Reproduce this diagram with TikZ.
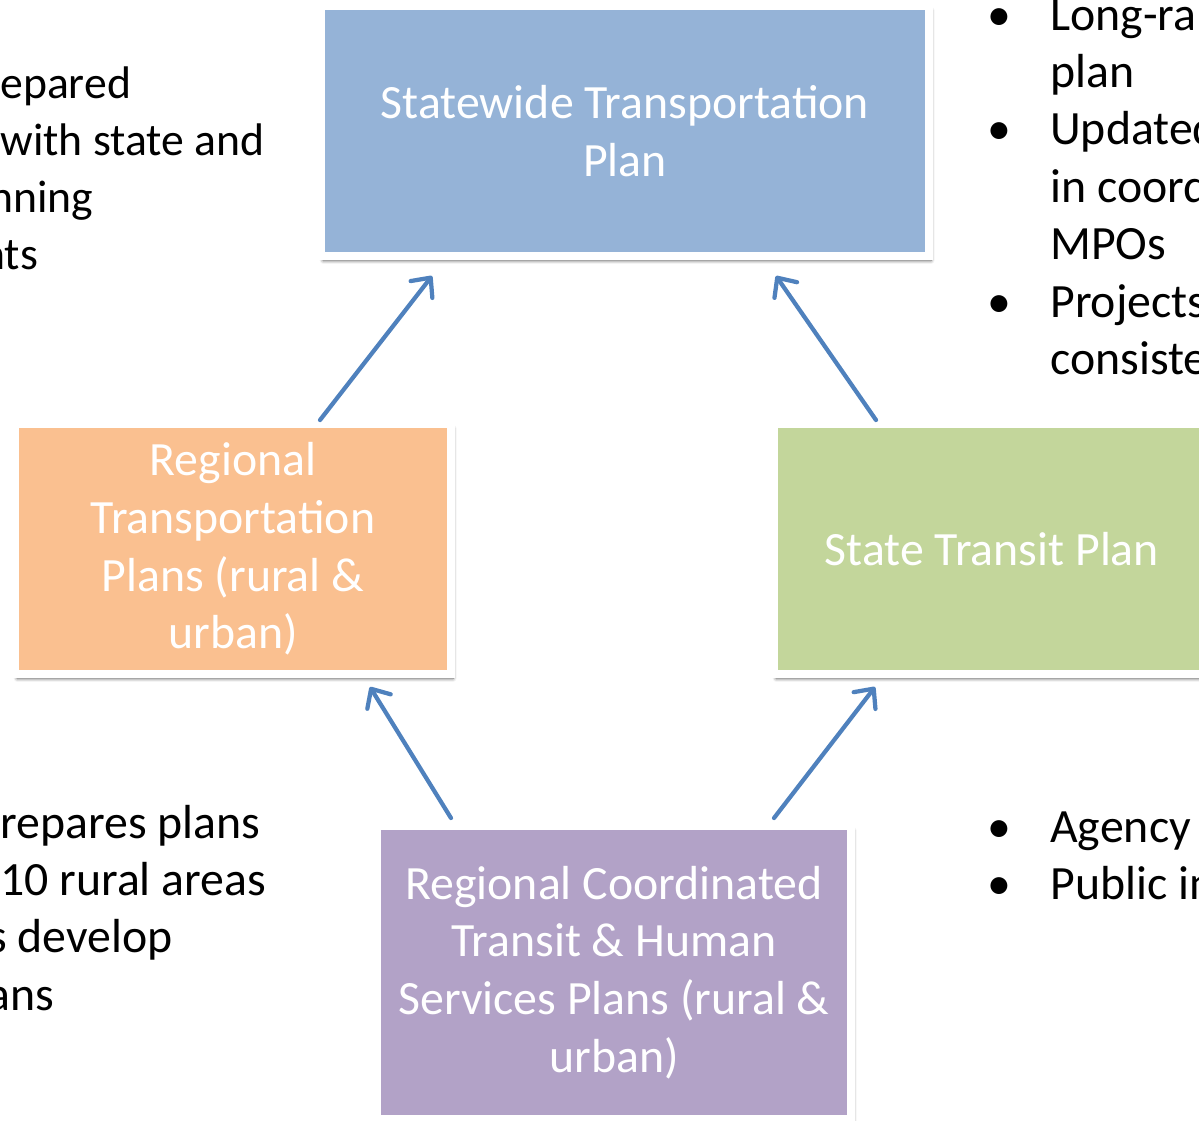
\documentclass[tikz,border=0pt]{standalone}
\usepackage{fontspec}
\setmainfont{Carlito}
\usetikzlibrary{arrows.meta, calc, shadows.blur}
\definecolor{planblue}{HTML}{95B3D7}
\definecolor{planorange}{HTML}{FAC090}
\definecolor{plangreen}{HTML}{C3D69B}
\definecolor{planpurple}{HTML}{B2A2C7}
\definecolor{arrowblue}{HTML}{4F81BD}

\begin{document}
\begin{tikzpicture}[
  x=0.02cm, y=-0.02cm,
  planbox/.style={
    rectangle,
    draw=white,
    line width=0.16cm,
    fill=#1,
    text=white,
    align=center,
    inner sep=0pt,
    minimum width=8.72cm,
    minimum height=5cm,
    font=\fontsize{27.2}{32.8}\selectfont,
    blur shadow={shadow xshift=1.2pt, shadow yshift=-2.5pt, shadow blur radius=2pt, shadow opacity=70}
  },
  sidetext/.style={anchor=base west, inner sep=0pt, font=\fontsize{27.2}{32.7}\selectfont},
  arrow/.style={-{Straight Barb[length=0.3cm, width=0.55cm, round]}, line width=0.085cm, line cap=round, arrowblue}
]
  \useasboundingbox (0,0) rectangle (1199,1120);
  \clip (0,0) rectangle (1199,1120);

  \node[planbox=planblue, minimum width=12.16cm] (statewide) at (625,131) {Statewide Transportation\\Plan};
  \node[planbox=planorange] (regional) at (233,549) {Regional\\Transportation\\Plans (rural \&\\urban)};
  \node[planbox=plangreen] (transit) at (992,549) {State Transit Plan};
  \node[planbox=planpurple, minimum width=9.48cm, minimum height=5.86cm] (coordinated) at (614,972.5) {Regional Coordinated\\Transit \& Human\\Services Plans (rural \&\\urban)};

  \draw[arrow] ($(regional.north)+(87,0)$) -- ($(statewide.south)+(-193,16)$);
  \draw[arrow] ($(transit.north)+(-116,0)$) -- ($(statewide.south)+(151,16)$);
  \draw[arrow] ($(coordinated.north)+(-163,-4)$) -- ($(regional.south)+(137,9)$);
  \draw[arrow] ($(coordinated.north)+(160,-4)$) -- ($(transit.south)+(-117,9)$);

  % side notes, cut off by the slide edge
  \node[sidetext, font=\fontsize{26}{32.6}\selectfont] (statenote) at (0,98) {\begin{tabular}[t]{@{}l@{}}epared\\ with state and\\\hspace*{-0.22cm}nning\\\hspace*{-0.38cm}nts\end{tabular}};
  \node[sidetext] (regionalnote) at (0,838) {\begin{tabular}[t]{@{}l@{}}repares plans\\ 10 rural areas\\\hspace*{-0.24cm}s develop\\\hspace*{-0.26cm}ans\end{tabular}};
  \node[sidetext] (planlist) at (987,30) {\begin{tabular}[t]{@{}p{1.26cm}@{}l@{}}\textbullet & Long-ra\\ & plan\\ \textbullet & Updated\\ & in coord\\ & MPOs\\ \textbullet & Projects\\ & consiste\end{tabular}};
  \node[sidetext] (transitlist) at (987,842) {\begin{tabular}[t]{@{}p{1.26cm}@{}l@{}}\textbullet & Agency\\ \textbullet & Public in\end{tabular}};
\end{tikzpicture}
\end{document}
